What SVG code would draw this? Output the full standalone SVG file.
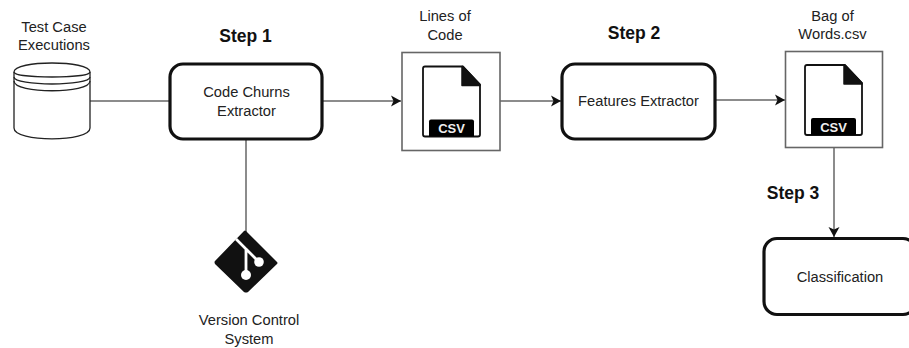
<svg xmlns="http://www.w3.org/2000/svg" width="909" height="348" viewBox="0 0 909 348">
<style>
text{font-family:"Liberation Sans",Arial,sans-serif;font-size:14.700px;fill:#222;text-anchor:middle}
.step{font-weight:bold;font-size:17.500px;fill:#111}
.box{fill:#fff;stroke:#111;stroke-width:3.2}
.frame{fill:#fff;stroke:#666;stroke-width:1.6}
.conn{fill:none;stroke:#666;stroke-width:1.5}
.doc{fill:#fff;stroke:#111;stroke-width:1.8;stroke-linejoin:round}
.csv{font-weight:bold;font-size:13px;fill:#eee}
</style>
<defs>
<marker id="arrow" markerUnits="userSpaceOnUse" markerWidth="11" markerHeight="12" refX="10" refY="6" orient="auto">
<path d="M0 0.5L10 6L0 11.5L2.5 6Z" fill="#111"/>
</marker>
<g id="csvfile">
<path class="doc" d="M0 2Q0 0 2 0H40L57 18V68Q57 70 55 70H2Q0 70 0 68Z"/>
<path d="M39 0H40L57 18V19H39Z" fill="#111" stroke="#111" stroke-width="1.5" stroke-linejoin="round"/>
<path d="M6 70V55Q6 53 8 53H49Q51 53 51 55V70Z" fill="#000"/>
<text class="csv" x="28.500" y="66.500">CSV</text>
</g>
</defs>
<g id="connectors">
<path class="conn" d="M90 101H170"/>
<path class="conn" d="M246 139V232"/>
<path class="conn" d="M322 101H401" marker-end="url(#arrow)"/>
<path class="conn" d="M500 101H561" marker-end="url(#arrow)"/>
<path class="conn" d="M716 100H785" marker-end="url(#arrow)"/>
<path class="conn" d="M834 148V237" marker-end="url(#arrow)"/>
</g>
<g id="test-case-executions">
<path d="M14 72C14 60 90 60 90 72V128C90 142.500 14 142.500 14 128Z" fill="#fff" stroke="#222" stroke-width="1.300"/>
<path d="M14 72C14 78.700 90 78.700 90 72M14 77C14 86.300 90 86.300 90 77M14 81C14 94 90 94 90 81" fill="none" stroke="#222" stroke-width="1.300"/>
<text x="54" y="32">Test Case</text>
<text x="54" y="50">Executions</text>
</g>
<g id="code-churns-extractor">
<rect class="box" x="170" y="64" width="152" height="75" rx="13"/>
<text x="246.500" y="97">Code Churns</text>
<text x="246.500" y="116">Extractor</text>
</g>
<text class="step" x="245.500" y="42">Step 1</text>
<g id="lines-of-code">
<rect class="frame" x="402" y="52.500" width="98" height="98"/>
<use href="#csvfile" x="423" y="66.500"/>
<text x="445" y="21">Lines of</text>
<text x="445" y="40">Code</text>
</g>
<g id="features-extractor">
<rect class="box" x="562" y="64" width="153" height="75" rx="13"/>
<text x="638.500" y="106">Features Extractor</text>
</g>
<text class="step" x="634" y="39">Step 2</text>
<g id="bag-of-words">
<rect class="frame" x="785.500" y="51.500" width="97" height="96"/>
<use href="#csvfile" x="805" y="65"/>
<text x="832.500" y="21">Bag of</text>
<text x="832.500" y="39">Words.csv</text>
</g>
<text class="step" x="793" y="199">Step 3</text>
<g id="classification">
<rect class="box" x="764" y="238.500" width="152" height="76" rx="13"/>
<text x="840" y="282">Classification</text>
</g>
<g id="version-control-system">
<path d="M246 231L277 262Q278 263 277 264L248 292Q246 293 244 292L215 264Q214 262 215 261L244 231Q245 230 246 231Z" fill="#111"/>
<path d="M236 239L246 249V274M246 249L259 262" fill="none" stroke="#fff" stroke-width="2.800"/>
<circle cx="246" cy="275" r="5" fill="#fff"/>
<circle cx="259" cy="262" r="4.800" fill="#fff"/>
<text x="249" y="325">Version Control</text>
<text x="249" y="344">System</text>
</g>
</svg>
